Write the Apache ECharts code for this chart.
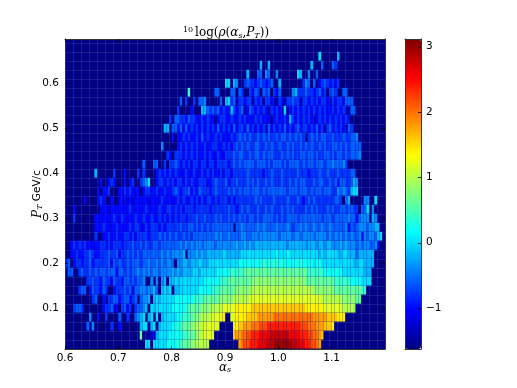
<!DOCTYPE html>
<html>
<head>
<meta charset="utf-8">
<title>rho</title>
<script src="https://cdn.jsdelivr.net/npm/echarts@6/dist/echarts.min.js"></script>
<style>
  html, body { margin: 0; padding: 0; background: #fff; }
  #chart { width: 517px; height: 388px; }
</style>
</head>
<body>
<div id="chart"></div>
<script>
  // bins of the histogram
  const colCount = 120, rowCount = 35;
  const xStart = 0.6, colW = 0.005;
  const yStart = 0.01, rowH = 0.02;
  const xTicks = [0.6, 0.7, 0.8, 0.9, 1.0, 1.1];
  const yTicks = [0.1, 0.2, 0.3, 0.4, 0.5, 0.6];
  const barTicks = [-1, 0, 1, 2, 3];
  const valueMin = -1.627, valueMax = 3.118;

  // one char per cell: 0 is -1.6, every next char is 0.2 more
  const levels = '0123456789abcdefghijklmn';
  const levelValues = [-1.6, -1.4, -1.2, -1, -0.8, -0.6, -0.4, -0.2, 0, 0.2, 0.4, 0.6, 0.8, 1, 1.2, 1.4, 1.6, 1.8, 2, 2.2, 2.4, 2.6, 2.8, 3];

  // rows bottom to top: start column, cells, start column, cells...
  const rowRuns = [
    [30, '88088', 35, '8889999aabbbccddddd', 65, 'hijjkkklllmmmnnnnnnnmmmllkkjjih'],
    [28, 'b', 30, '1021', 34, '7888899999aabbbcddeeee', 63, 'ghhiijjkkkllllmmmmmmmllllkkkjjiihg'],
    [8, '5', 10, '6', 17, '4', 20, '3', 27, '078807807888899aabbbccdddeeeeee', 63, 'ffgghhhiiijjjkkkkkkkkkkkkjjjiiihhhgggf'],
    [9, '6', 12, '3', 15, '4', 20, '5', 23, '4', 26, '56780', 31, '7808078888899aaabbccddddeeeef', 62, 'eeffffgggghhhhhhiiiiiiiiiiiiiiihhhhhggggfff'],
    [3, '4554', 14, '344523', 21, '4534', 26, '455', 29, '6708788888 8999 99aabb bbccccdddd eeeeefffff fggggggggg gggggggggg gfffffffee eeeeeddddc'],
    [10, '45', 14, '3', 16, '44553', 21, '455345', 28, '5667078788 8889999999 aaaabbbbbb cccccddddd deeeeeeeee eeeeeeeeee eeeeeeeedd ddddddcccc cbb'],
    [5, '455', 9, '3544354', 18, '3444545355 6656675078 7807788888 8899999aaa bbbbbbcccc ccdddddddd dddddddddd dddddccccc cccbbbbbbbbbbaa'],
    [8, '4454435443 5443554545 5600606067 0778788888 8888999999 aaabbbbbbb bbcccccccc cccccccccc ccbbbbbbbb bbbaaaaaa9 9998888'],
    [1, '55', 5, '4544545455 4555355454 5565656566 5666676767 7778878888 8899999aaa aabbbbbbbb bbbbbbbbbb bbbbbbaaaa aa99999998 8888888777'],
    [0, '45', 3, '3443445344 4445354544 5455545565 5656566506 6776777877 7888888888 8899999999 9a9a9aa9a9 99999a9999 8998888888 8888877887 777'],
    [2, '3343344543 3444544534 4545454555 5555656566 6670666767 6777777877 7777888888 8888888988 8988888888 8887878888 7788777577 7777'],
    [2, '3434343333 3443434443 4445445454 4554555555 5656565665 6666566666 6676676767 7777777777 7677777767 7767767766 6767666565 665563'],
    [11, '4', 14, '3343343344 3434444344 4545454544 5454555555 5565655655 5566556656 6666665666 6566566665 6666565656 5656556365 66578'],
    [11, '3334333343 3334344334 3444343444 4454455454 5454555555 5505565555 5656555565 5565455656 5565565565 5555635456 6656677'],
    [3, '4', 11, '3333333433 4333343343 3433434343 4344344454 4544454544 5454545455 4545555454 5455554555 5555545554 5555565535 666076'],
    [3, '3', 13, '3332333333 3433333433 3343344343 4344434444 4344444454 4345454445 4454544454 5454444545 4544454544 5545544055 806'],
    [7, '3', 12, '343', 17, '3', 20, '3232323333 3233334333 3343433434 3434434344 4343444444 4545444454 4445444543 4545444444 4554057', 112, '66', 116, '8'],
    [12, '3', 14, '334', 20, '32434333', 29, '3443343343 3454344534 3544434544 4454545455 4555454555 5555455545 5545455455 5446565478 8'],
    [13, '3', 16, '343', 22, '3', 24, '34', 28, '4568', 34, '3443434344 3434334443 3454445344 5444545454 4545444544 5454554445 4554454535 544576'],
    [11, '7', 18, '4', 22, '3', 27, '4', 29, '4', 34, '3434343433 3433433434 3433434434 4444544444 3445444544 4445444344 4544544454 44455'],
    [29, '5', 33, '55', 37, '4', 39, '4454343434 4344344344 4434545455 5545554545 5545455554 5455455545 5655564'],
    [38, '4', 39, '3', 41, '4', 42, '4434343433 4343343344 4545544545 5454554445 4545445545 5454455454 554545556'],
    [36, '6', 42, '3434343433 4334433434 3454545445 5445454454 4545445454 5445454455 454545555'],
    [40, '3', 42, '3', 43, '3434334353 4334343334 3454545445 4545445455 4545454045 4545544544 4544556'],
    [37, '77', 40, '5535353434 3434343534 3435344353 4343415343 4353434534 4343534145 34343154'],
    [39, '4', 41, '5544354433 4343313443 3433434333 4343331343 3437434343 4313434343 434343'],
    [42, '4', 47, '3', 51, '7754545343 3743451354 3434314343 1813434343 4343434334 34341155'],
    [43, '5', 45, '4', 48, '4', 50, '556', 58, '5', 60, '78', 62, '4514434414 3414431143 1445441443 4343443143 443555'],
    [46, 'a', 56, '55', 62, '55', 65, '54', 69, '4354', 74, '545', 78, '435', 85, '67', 87, '44', 89, '454', 92, '434534', 99, '454', 104, '55'],
    [60, '88', 63, '76', 67, '454', 70, '43454345', 80, '7', 89, '46', 91, '5', 93, '5', 95, '34543434'],
    [68, '7', 72, '55', 75, '65', 79, '6', 87, '87', 91, '6', 94, '5'],
    [73, '7', 76, '7', 92, '7', 96, '5', 100, '54'],
    [95, '8', 102, '7']
  ];

  const cells = [];
  for (let r = 0; r < rowCount; r++) {
    const row = new Array(colCount).fill(levelValues[0]);
    const runs = rowRuns[r] || [];
    for (let k = 0; k < runs.length; k += 2) {
      const text = runs[k + 1].replace(/ /g, '');
      for (let c = 0; c < text.length && runs[k] + c < colCount; c++) {
        row[runs[k] + c] = levelValues[levels.indexOf(text[c])];
      }
    }
    row.forEach((v, c) => cells.push([xStart + c * colW, yStart + r * rowH, v, c]));
  }

  function renderCell(params, api) {
    const a = api.coord([api.value(0), api.value(1) + rowH]);
    const b = api.coord([api.value(0) + colW, api.value(1)]);
    const rect = echarts.graphic.clipRectByRect(
      { x: a[0], y: a[1], width: b[0] - a[0], height: b[1] - a[1] },
      params.coordSys
    );
    if (!rect) return;
    // the faint mesh lines of the original, they only really show on the dark cells
    const seam = api.value(2) < -1 ? 'rgba(255,255,255,0.1)' : 'rgba(255,255,255,0.04)';
    const children = [{ type: 'rect', shape: rect, style: { fill: api.visual('color') } }];
    const lineY = Math.round(rect.y) + 0.5;
    children.push({ type: 'line', shape: { x1: rect.x, y1: lineY, x2: rect.x + rect.width, y2: lineY }, style: { stroke: seam, lineWidth: 1 } });
    if (api.value(3) % 3 === 0) {
      const lineX = Math.round(rect.x) + 0.5;
      children.push({ type: 'line', shape: { x1: lineX, y1: rect.y, x2: lineX, y2: rect.y + rect.height }, style: { stroke: seam, lineWidth: 1 } });
    }
    return { type: 'group', children };
  }

  // colorbar ticks, drawn on its own axes above the bar
  function renderBarTick(params, api) {
    const p = api.coord([1, api.value(0)]);
    return {
      type: 'line',
      shape: { x1: p[0] - 3, y1: Math.round(p[1]) + 0.5, x2: p[0], y2: Math.round(p[1]) + 0.5 },
      style: { stroke: '#000', lineWidth: 0.8 }
    };
  }

  const tickFont = { fontFamily: 'DejaVu Sans', fontSize: 10.5, color: '#000' };
  const frame = { show: true, onZero: false, lineStyle: { color: '#333', width: 1 } };
  const oneDigit = v => v.toFixed(1);
  const serif = { fontFamily: 'DejaVu Serif', fontWeight: 'normal', color: '#000' };
  const mathRich = {
    m: Object.assign({ fontSize: 12 }, serif),
    i: Object.assign({ fontSize: 12, fontStyle: 'italic' }, serif),
    sup: Object.assign({ fontSize: 8, padding: [0, 2, 6, 0] }, serif),
    sub: Object.assign({ fontSize: 8, fontStyle: 'italic', padding: [5, 0, 0, 0] }, serif)
  };

  function sideAxis(gridIndex, position, min, max, ticks) {
    return {
      type: 'value', gridIndex, position, min, max, z: 5, axisLine: frame, splitLine: { show: false },
      axisTick: { show: !!ticks, inside: true, length: 3, lineStyle: { color: '#000', width: 0.8 }, customValues: ticks },
      axisLabel: { show: false }
    };
  }

  const chart = echarts.init(document.getElementById('chart'), null, { renderer: 'canvas' });
  chart.setOption({
    animation: false,
    backgroundColor: '#fff',
    title: {
      text: '{sup|10}{m|log(}{i|ρ}{m|(}{i|α}{sub|s}{m|,}{i|P}{sub|T}{m|))}',
      left: 221, top: 21, textAlign: 'center',
      textStyle: { fontWeight: 'normal', rich: mathRich }
    },
    grid: [
      { left: 65, top: 39, width: 320, height: 310, backgroundColor: '#00007f', show: true, borderWidth: 0 },
      { left: 405, top: 39, width: 16, height: 310, show: false }
    ],
    xAxis: [
      {
        type: 'value', gridIndex: 0, position: 'bottom', min: 0.6, max: 1.2, z: 5,
        axisLine: frame, splitLine: { show: false },
        axisTick: { inside: true, length: 3, lineStyle: { color: '#000', width: 0.8 }, customValues: xTicks },
        axisLabel: Object.assign({ margin: 4, formatter: oneDigit, customValues: xTicks }, tickFont),
        name: '{i|α}{sub|s}', nameLocation: 'middle', nameGap: 12, nameMoveOverlap: false,
        nameTextStyle: { fontWeight: 'normal', rich: mathRich }
      },
      sideAxis(0, 'top', 0.6, 1.2, xTicks),
      sideAxis(1, 'bottom', 0, 1),
      sideAxis(1, 'top', 0, 1)
    ],
    yAxis: [
      {
        type: 'value', gridIndex: 0, position: 'left', min: 0.009, max: 0.698, z: 5,
        axisLine: frame, splitLine: { show: false },
        axisTick: { inside: true, length: 3, lineStyle: { color: '#000', width: 0.8 }, customValues: yTicks },
        axisLabel: Object.assign({ margin: 6, formatter: oneDigit, customValues: yTicks }, tickFont),
        name: '{i|P}{sub|T}{g| GeV/c}', nameLocation: 'middle', nameGap: 21, nameMoveOverlap: false,
        nameTextStyle: {
          fontWeight: 'normal',
          rich: Object.assign({}, mathRich, { g: { fontFamily: 'DejaVu Sans', fontSize: 10.5, color: '#000' } })
        }
      },
      sideAxis(0, 'right', 0.009, 0.698, yTicks),
      sideAxis(1, 'left', valueMin, valueMax),
      {
        type: 'value', gridIndex: 1, position: 'right', min: valueMin, max: valueMax, z: 5,
        axisLine: frame, splitLine: { show: false },
        axisTick: { show: false },
        axisLabel: Object.assign({ margin: 5, formatter: v => String(v).replace('-', '\u2212'), customValues: barTicks }, tickFont)
      }
    ],
    visualMap: {
      type: 'continuous', seriesIndex: 0, dimension: 2, min: valueMin, max: valueMax,
      left: 405, top: 39, itemWidth: 16, itemHeight: 310, padding: 0,
      calculable: false, realtime: false, hoverLink: false, silent: true, indicatorSize: 0, handleSize: 0,
      inRange: { color: ['#00007f', '#0000ff', '#007fff', '#00ffff', '#7fff7f', '#ffff00', '#ff7f00', '#ff0000', '#7f0000'] }
    },
    series: [
      {
        type: 'custom', xAxisIndex: 0, yAxisIndex: 0, silent: true,
        renderItem: renderCell, encode: { x: 0, y: 1 }, data: cells
      },
      {
        type: 'custom', xAxisIndex: 2, yAxisIndex: 3, silent: true, z: 6,
        renderItem: renderBarTick, encode: { y: 0 }, data: barTicks.map(v => [v])
      }
    ]
  });
</script>
</body>
</html>
